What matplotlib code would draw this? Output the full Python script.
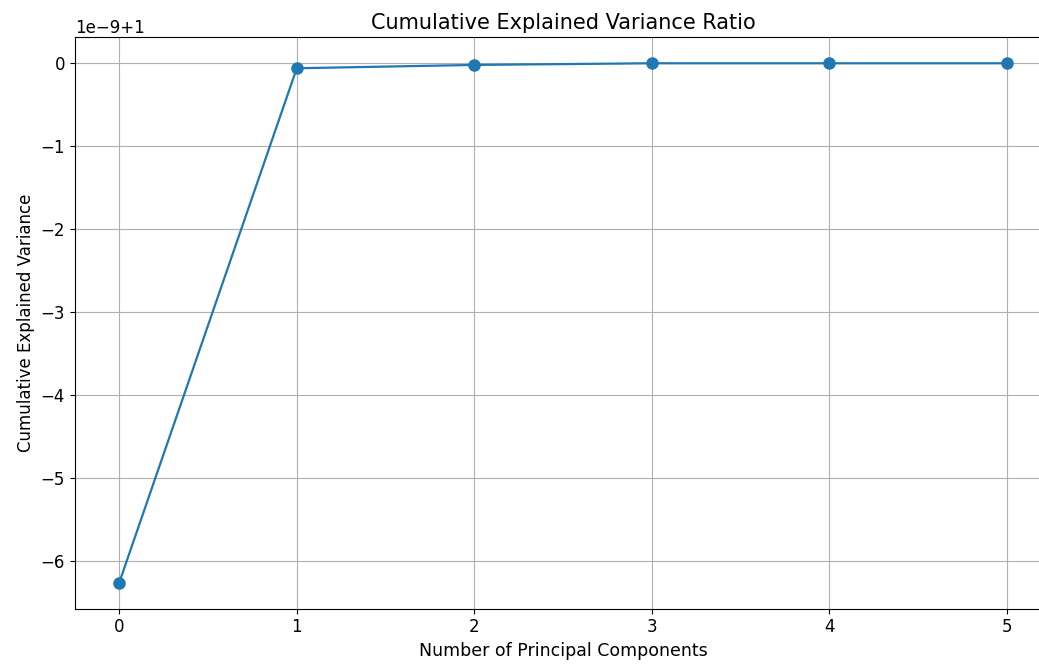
import matplotlib
matplotlib.use('Agg')
import matplotlib.pyplot as plt

# Number of components and the cumulative ratio (offset from 1, in units of 1e-9)
components = [0, 1, 2, 3, 4, 5]
offset_e9 = [-6.26, -0.06, -0.02, 0.0, 0.0, 0.0]
cumulative = [1.0 + v * 1e-9 for v in offset_e9]

fig, ax = plt.subplots(figsize=(10.39, 6.66), dpi=100)
# the right spine sits just past the image edge in the reference
fig.subplots_adjust(left=0.072, right=1.012, top=0.944, bottom=0.086)

ax.plot(components, cumulative, marker='o', linestyle='-', color='#1f77b4', markersize=8, linewidth=1.6)
ax.set_title('Cumulative Explained Variance Ratio', fontsize=15)
ax.set_xlabel('Number of Principal Components', fontsize=12.5)
ax.set_ylabel('Cumulative Explained Variance', fontsize=12)
ax.tick_params(labelsize=12)
ax.yaxis.get_offset_text().set_fontsize(12)
ax.grid(True)

fig.savefig('out.png', dpi=100)
